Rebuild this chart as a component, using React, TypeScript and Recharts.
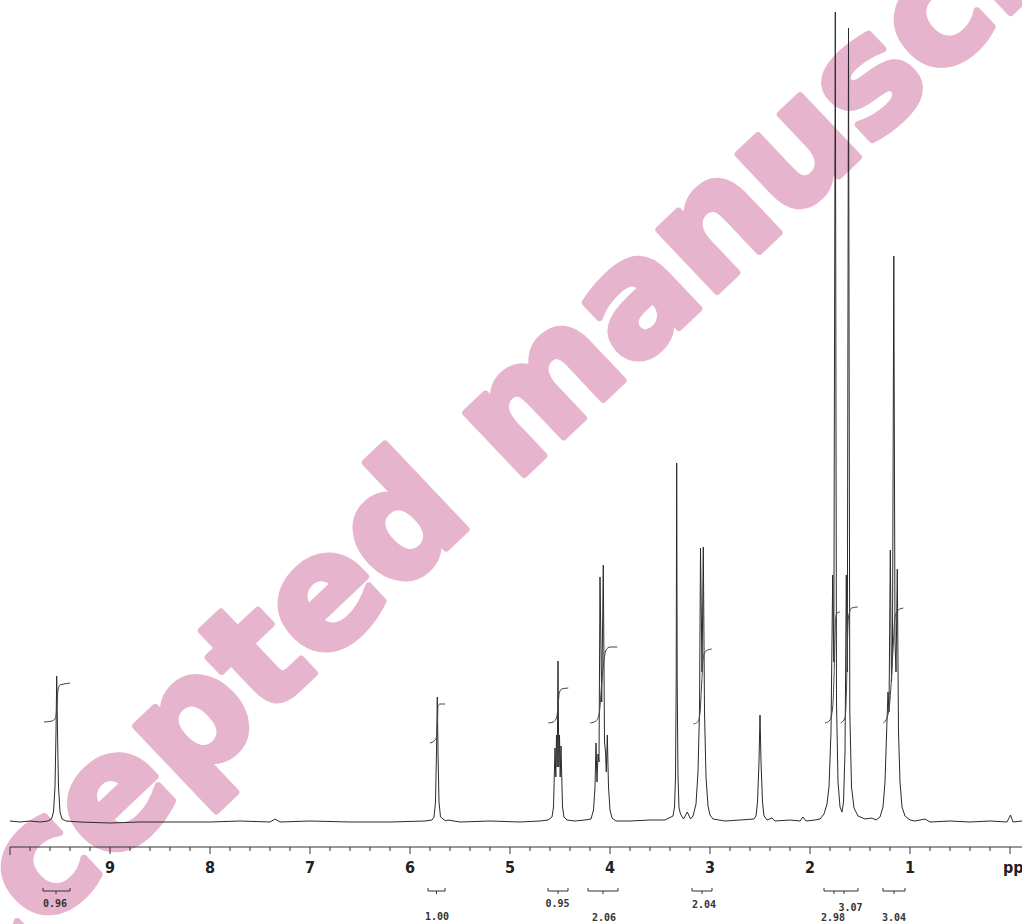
import React from "react";
import { LineChart, Line, XAxis, YAxis, ReferenceLine, ReferenceDot } from "recharts";

// spectrum trace: [ppm, intensity above baseline]
const SPECTRUM: [number, number][] = [
  [10.0, 1], [9.9, 0], [9.8, 1], [9.7, 0], [9.62, 1],
  [9.585, 3], [9.565, 10], [9.55, 35], [9.54, 90], [9.533, 146], [9.525, 90], [9.515, 35], [9.5, 10], [9.48, 3], [9.44, 1],
  [9.3, 0], [9.0, -1], [8.7, 0], [8.4, 0], [8.0, 0], [7.7, 1], [7.4, 0], [7.35, 3], [7.3, 0], [7.0, 1], [6.6, 0], [6.2, 0], [5.85, 1], [5.78, 2],
  [5.76, 5], [5.745, 20], [5.735, 70], [5.727, 125], [5.72, 70], [5.71, 20], [5.695, 5], [5.67, 3], [5.64, 1], [5.62, 2],
  [5.5, 0], [5.2, 1], [4.9, 0], [4.7, 1], [4.62, 2],
  [4.58, 5], [4.565, 15], [4.55, 74], [4.542, 45], [4.535, 87], [4.528, 55], [4.52, 161], [4.512, 55], [4.505, 87], [4.498, 45], [4.49, 76], [4.475, 15], [4.46, 5], [4.43, 2],
  [4.35, 1], [4.25, 2],
  [4.19, 3], [4.165, 12], [4.15, 35], [4.14, 79], [4.13, 40], [4.12, 68], [4.11, 60], [4.1, 245], [4.083, 120], [4.067, 257], [4.055, 80], [4.045, 70], [4.037, 50], [4.027, 87], [4.015, 35], [4.0, 12], [3.98, 4], [3.94, 1],
  [3.8, 1], [3.6, 2], [3.45, 2], [3.41, 4],
  [3.37, 6], [3.355, 15], [3.345, 45], [3.338, 140], [3.333, 359], [3.328, 140], [3.32, 45], [3.31, 14], [3.295, 8],
  [3.265, 3], [3.227, 10], [3.195, 3],
  [3.17, 6], [3.14, 18], [3.12, 50], [3.105, 110], [3.095, 274], [3.08, 150], [3.067, 275], [3.055, 110], [3.04, 45], [3.02, 16], [3.0, 7], [2.97, 3],
  [2.85, 1], [2.7, 2], [2.56, 3],
  [2.54, 6], [2.525, 20], [2.51, 60], [2.5, 107], [2.49, 60], [2.475, 20], [2.46, 6], [2.43, 2], [2.38, 4], [2.35, 1],
  [2.2, 2], [2.1, 1], [2.07, 5], [2.04, 1], [1.95, 2],
  [1.9, 3], [1.86, 8], [1.83, 18], [1.81, 35], [1.79, 90], [1.773, 247], [1.762, 160], [1.747, 810], [1.735, 120], [1.72, 40], [1.7, 15], [1.68, 10],
  [1.665, 20], [1.65, 70], [1.637, 247], [1.627, 150], [1.615, 794], [1.602, 110], [1.585, 35], [1.56, 14], [1.52, 6], [1.45, 3], [1.38, 4], [1.34, 2],
  [1.3, 5], [1.27, 15], [1.25, 40], [1.233, 92], [1.22, 130], [1.21, 110], [1.197, 272], [1.185, 140], [1.175, 180], [1.162, 566], [1.15, 180], [1.14, 150], [1.127, 253], [1.115, 90], [1.1, 40], [1.08, 15], [1.05, 6], [1.0, 2],
  [0.95, 1], [0.85, 3], [0.8, 0], [0.6, 1], [0.4, 0], [0.2, 1], [0.03, 0], [-0.005, 7], [-0.03, 0], [-0.12, 1],
];

// integral step curves
const INT_A: [number, number][] = [[9.66, 100], [9.58, 101], [9.545, 104], [9.53, 117], [9.52, 132], [9.5, 137], [9.46, 138], [9.4, 139]];
const INT_B: [number, number][] = [[5.8, 79], [5.76, 81], [5.735, 85], [5.725, 102], [5.72, 116], [5.7, 118], [5.65, 118]];
const INT_C: [number, number][] = [[4.617, 99], [4.567, 100], [4.533, 105], [4.517, 119], [4.507, 129], [4.483, 133], [4.417, 134]];
const INT_D: [number, number][] = [[4.2, 99], [4.14, 101], [4.107, 109], [4.083, 139], [4.067, 155], [4.04, 172], [4.0, 175], [3.927, 175]];
const INT_E: [number, number][] = [[3.167, 98], [3.123, 100], [3.1, 109], [3.083, 139], [3.067, 165], [3.04, 171], [2.983, 173]];
const INT_F: [number, number][] = [[1.85, 99], [1.8, 102], [1.773, 115], [1.755, 162], [1.745, 202], [1.73, 209], [1.7, 210]];
const INT_G: [number, number][] = [[1.693, 99], [1.65, 104], [1.635, 132], [1.625, 182], [1.615, 205], [1.583, 214], [1.523, 215]];
const INT_H: [number, number][] = [[1.267, 99], [1.227, 105], [1.2, 122], [1.17, 172], [1.15, 205], [1.117, 212], [1.067, 214]];
const INTEGRALS = [INT_A, INT_B, INT_C, INT_D, INT_E, INT_F, INT_G, INT_H];

// integral brackets under the axis
const BRACKET_FROM = [9.67, 5.82, 4.62, 4.22, 3.18, 1.86, 1.27];
const BRACKET_TO = [9.4, 5.65, 4.42, 3.92, 2.98, 1.52, 1.05];
const BRACKET_MARKS = [[9.54], [5.735], [4.52], [4.07], [3.08], [1.76, 1.66], [1.16]];

const LABEL_TEXT = ["0.96", "1.00", "0.95", "2.06", "2.04", "3.07", "2.98", "3.04"];
const LABEL_PPM = [9.55, 5.73, 4.525, 4.06, 3.06, 1.595, 1.77, 1.16];
const LABEL_Y = [-84.5, -97.5, -85, -98.5, -86, -88.5, -99, -99];

const TICKS = [
  0, 0.2, 0.4, 0.6, 0.8, 1, 1.2, 1.4, 1.6, 1.8, 2, 2.2, 2.4, 2.6, 2.8, 3, 3.2, 3.4, 3.6, 3.8,
  4, 4.2, 4.4, 4.6, 4.8, 5, 5.2, 5.4, 5.6, 5.8, 6, 6.2, 6.4, 6.6, 6.8, 7, 7.2, 7.4, 7.6, 7.8,
  8, 8.2, 8.4, 8.6, 8.8, 9, 9.2, 9.4, 9.6, 9.8, 10,
];

const INK = "#2b2b2b";
const PINK = "#e6b4cd";
const BRACKET_Y = -69;

function PpmTick({ x, y, payload }: any) {
  const v = payload.value;
  const major = Number.isInteger(v);
  const len = v === 10 ? 8 : major ? 7 : 4;
  const font = {
    fontFamily: "'Liberation Sans Narrow', 'DejaVu Sans Condensed', 'DejaVu Sans', sans-serif",
    fontWeight: "bold" as const,
    fontSize: 16,
    fill: "#222",
  };
  let label = null;
  if (v === 0) {
    label = (
      <text x={x - 7} y={y + 26} textAnchor="start" {...font}>
        ppm
      </text>
    );
  } else if (major && v < 10) {
    label = (
      <text x={x} y={y + 26} textAnchor="middle" {...font}>
        {v}
      </text>
    );
  }
  return (
    <g>
      <line x1={x} x2={x} y1={y} y2={y + len} stroke="#333" strokeWidth={1} />
      {label}
    </g>
  );
}

export default function App() {
  const spectrum = SPECTRUM.map(([ppm, v]) => ({ ppm, v }));
  const integrals = INTEGRALS.map((c) => c.map(([ppm, v]) => ({ ppm, v })));

  const segments: { a: [number, number]; b: [number, number] }[] = [];
  BRACKET_FROM.forEach((from, i) => {
    const to = BRACKET_TO[i];
    segments.push({ a: [from, BRACKET_Y], b: [to, BRACKET_Y] });
    segments.push({ a: [from, BRACKET_Y + 3], b: [from, BRACKET_Y] });
    segments.push({ a: [to, BRACKET_Y + 3], b: [to, BRACKET_Y] });
    BRACKET_MARKS[i].forEach((m) => segments.push({ a: [m, BRACKET_Y], b: [m, BRACKET_Y - 3] }));
  });

  return (
    <div style={{ position: "absolute", left: 0, top: 0, width: 1022, height: 924, background: "#fff" }}>
      <svg width={1022} height={924} style={{ position: "absolute", left: 0, top: 0 }}>
        <text
          transform="translate(-112,1078) rotate(-43.5)"
          fontFamily="'DejaVu Sans', sans-serif"
          fontWeight="bold"
          fontSize={155}
          fill={PINK}
          stroke={PINK}
          strokeWidth={7}
          strokeLinejoin="round"
        >
          Accepted manuscript
        </text>
      </svg>
      <div style={{ position: "absolute", left: 0, top: 0 }}>
        <LineChart width={1022} height={924} margin={{ top: 0, right: 0, bottom: 0, left: 10 }}>
          <XAxis
            type="number"
            dataKey="ppm"
            domain={[-0.12, 10]}
            reversed
            allowDataOverflow
            ticks={TICKS}
            interval={0}
            tick={<PpmTick />}
            tickLine={false}
            tickSize={0}
            tickMargin={0}
            axisLine={{ stroke: "#333", strokeWidth: 1 }}
            height={77}
          />
          <YAxis hide type="number" domain={[-25, 822]} allowDataOverflow />
          <Line
            data={spectrum}
            dataKey="v"
            type="linear"
            stroke={INK}
            strokeWidth={1}
            dot={false}
            isAnimationActive={false}
          />
          {integrals.map((d, i) => (
            <Line
              key={`int-${i}`}
              data={d}
              dataKey="v"
              type="monotone"
              stroke="#444"
              strokeWidth={1}
              dot={false}
              isAnimationActive={false}
            />
          ))}
          {segments.map((s, i) => (
            <ReferenceLine
              key={`seg-${i}`}
              segment={[
                { x: s.a[0], y: s.a[1] },
                { x: s.b[0], y: s.b[1] },
              ]}
              stroke="#333"
              strokeWidth={1}
              ifOverflow="visible"
            />
          ))}
          {LABEL_TEXT.map((t, i) => (
            <ReferenceDot
              key={`lab-${i}`}
              x={LABEL_PPM[i]}
              y={LABEL_Y[i]}
              r={0}
              ifOverflow="visible"
              shape={(p: any) => (
                <text
                  x={p.cx}
                  y={p.cy}
                  textAnchor="middle"
                  fontFamily="'DejaVu Sans Mono', monospace"
                  fontWeight="bold"
                  fontSize={10}
                  fill="#333"
                >
                  {t}
                </text>
              )}
            />
          ))}
        </LineChart>
      </div>
    </div>
  );
}
